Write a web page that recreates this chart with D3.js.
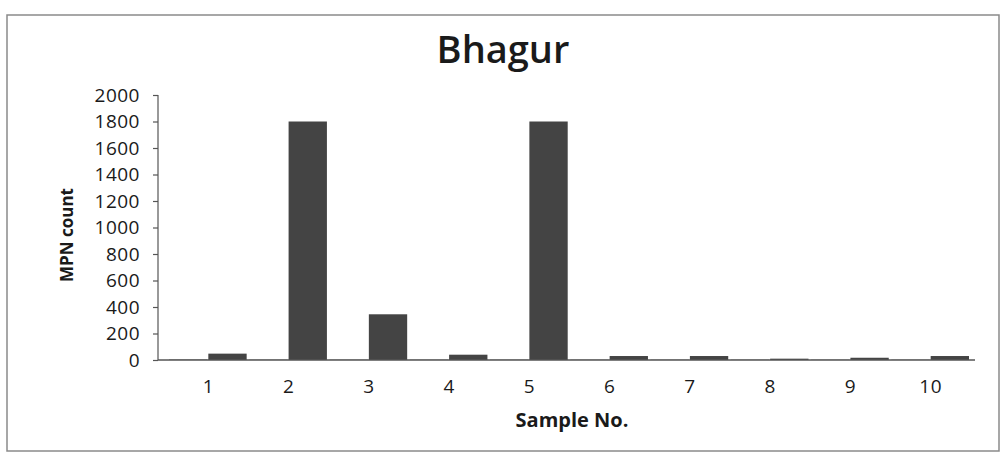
<!DOCTYPE html>
<html>
<head>
<meta charset="utf-8">
<script src="https://cdn.jsdelivr.net/npm/d3@7/dist/d3.min.js"></script>
<style>
  body { margin: 0; background: #fff; }
  svg { display: block; }
</style>
</head>
<body>
<svg width="1005" height="456"></svg>
<script>
var svg = d3.select('svg');

// chart data
var samples = ['1', '2', '3', '4', '5', '6', '7', '8', '9', '10'];
var seriesA = [3, 2, 2, 2, 2, 2, 2, 2, 2, 2];          // near zero, left bar of each pair
var seriesB = [48, 1800, 345, 40, 1800, 30, 30, 10, 17, 30];
var yTicks = [0, 200, 400, 600, 800, 1000, 1200, 1400, 1600, 1800, 2000];

var font = 'Open Sans';
var ink = '#1a1a1a';
var barColor = '#444444';

// outer frame
svg.append('rect')
    .attr('x', 7).attr('y', 15)
    .attr('width', 992).attr('height', 436)
    .attr('fill', 'none')
    .attr('stroke', '#8a8a8a')
    .attr('stroke-width', 1.5);

var axisX = 158;
var y = d3.scaleLinear()
    .domain([0, 2000])
    .range([360, 95]);

var x = d3.scaleBand()
    .domain(samples)
    .range([169, 970])
    .paddingInner(0.02);

var xSub = d3.scaleBand()
    .domain(['a', 'b'])
    .range([0, x.bandwidth()]);

// title
svg.append('text')
    .text('Bhagur')
    .attr('x', 503).attr('y', 63)
    .style('text-anchor', 'middle')
    .style('font-family', font)
    .style('font-weight', 600)
    .style('font-size', '38px')
    .style('fill', ink);

// y axis
var yAxis = svg.append('g')
    .attr('transform', 'translate(' + axisX + ',0)')
    .call(d3.axisLeft(y).tickValues(yTicks).tickSize(5).tickPadding(13).tickFormat(d3.format('d')));
yAxis.selectAll('text')
    .style('font-family', font)
    .style('font-size', '19px')
    .style('letter-spacing', '0.5px')
    .style('fill', ink);
yAxis.selectAll('line, path').attr('stroke', '#555').attr('stroke-width', 1.2);
yAxis.select('.domain').attr('d', 'M0,' + y(0) + 'V' + y(2000));

// bars
var groups = svg.selectAll('.sample')
    .data(samples)
    .enter()
    .append('g')
    .attr('class', 'sample')
    .attr('transform', function(d) {
        return 'translate(' + x(d) + ',0)';
    });

groups.append('rect')
    .attr('x', xSub('a'))
    .attr('width', xSub.bandwidth() - 1)
    .attr('y', function(d, i) { return y(seriesA[i]); })
    .attr('height', function(d, i) { return y(0) - y(seriesA[i]); })
    .attr('fill', barColor);

groups.append('rect')
    .attr('x', xSub('b'))
    .attr('width', xSub.bandwidth() - 1)
    .attr('y', function(d, i) { return y(seriesB[i]); })
    .attr('height', function(d, i) { return y(0) - y(seriesB[i]); })
    .attr('fill', barColor);

// x axis baseline + labels
svg.append('line')
    .attr('x1', axisX).attr('x2', 975)
    .attr('y1', y(0)).attr('y2', y(0))
    .attr('stroke', '#555')
    .attr('stroke-width', 1.5);

svg.selectAll('.xlabel')
    .data(samples)
    .enter()
    .append('text')
    .attr('class', 'xlabel')
    .text(function(d) { return d; })
    .attr('x', function(d) { return x(d) + xSub('b'); })
    .attr('y', 393)
    .style('text-anchor', 'middle')
    .style('font-family', font)
    .style('font-size', '19px')
    .style('letter-spacing', '0.5px')
    .style('fill', ink);

// axis titles
svg.append('text')
    .text('Sample No.')
    .attr('x', 572).attr('y', 427)
    .style('text-anchor', 'middle')
    .style('font-family', font)
    .style('font-weight', 'bold')
    .style('font-size', '20px')
    .style('fill', ink);

svg.append('text')
    .text('MPN count')
    .attr('transform', 'translate(73,235) rotate(-90)')
    .style('text-anchor', 'middle')
    .style('font-family', font)
    .style('font-weight', 'bold')
    .style('font-size', '17px')
    .style('fill', ink);
</script>
</body>
</html>
